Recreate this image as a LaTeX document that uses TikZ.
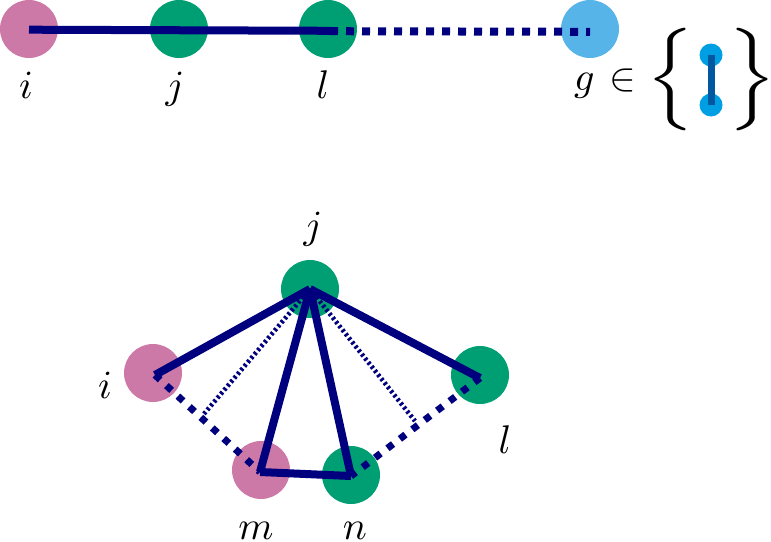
\documentclass[tikz,border=0pt]{standalone}
\definecolor{pinkn}{HTML}{CC79A7}
\definecolor{greenn}{HTML}{009E73}
\definecolor{skyn}{HTML}{56B4E9}
\definecolor{navyl}{HTML}{00007F}
\definecolor{cyann}{HTML}{009FE3}
\definecolor{bluel}{HTML}{0059A0}
\newcommand{\biglab}[1]{\scalebox{4}{$#1$}}
\tikzset{
  vtx/.style={circle,fill=#1,minimum size=58pt,inner sep=0pt,outer sep=0pt},
  tiny vtx/.style={circle,fill=cyann,minimum size=23pt,inner sep=0pt,outer sep=0pt},
  lab/.style={inner sep=0pt,outer sep=0pt,anchor=base},
  solidtop/.style={navyl,line width=8pt},
  dashtop/.style={navyl,line width=8pt,dash pattern=on 8pt off 8pt},
  solidlow/.style={navyl,line width=8pt},
  dashlow/.style={navyl,line width=7pt,dash pattern=on 7pt off 8.6pt},
  dotlow/.style={navyl,line width=4.6pt,dash pattern=on 2.6pt off 2.6pt},
}
\begin{document}
\begin{tikzpicture}[x=1pt,y=-1pt]
\useasboundingbox (0,0) rectangle (771,541);
% top row
\node[vtx=pinkn] (ti) at (29,29) {};
\node[vtx=greenn] (tj) at (179,29) {};
\node[vtx=greenn] (tl) at (328,29) {};
\node[vtx=skyn] (tg) at (590,29) {};
\coordinate (pi) at (29,29.7);
\coordinate (pl) at (331,30.8);
\coordinate (pl2) at (330,31.2);
\coordinate (pg) at (590,31.8);
\draw[dashtop] (pl2) -- (pg);
\draw[solidtop] (pi) -- (pl);
\node[lab] (li) at (26,98) {\biglab{i}};
\node[lab] (lj) at (175,98) {\biglab{j}};
\node[lab] (ll) at (323,98) {\biglab{l}};
\node[lab] (lg) at (605,90) {\biglab{g\mskip 1.5mu\in}};
% glyph
\node[tiny vtx] (ga) at (711,55) {};
\node[tiny vtx] (gb) at (711,105) {};
\draw[bluel,line width=7pt] (ga.center) -- (gb.center);
\node[inner sep=0pt,outer sep=0pt] (bl) at (670.5,80) {\scalebox{7.2}[5.7]{$\Big\{$}};
\node[inner sep=0pt,outer sep=0pt] (br) at (752.5,80) {\scalebox{7.2}[5.7]{$\Big\}$}};
% bottom
\node[vtx=greenn] (j) at (310,289) {};
\node[vtx=pinkn] (i) at (153,373) {};
\node[vtx=pinkn] (m) at (261,470) {};
\node[vtx=greenn] (n) at (351,475) {};
\node[vtx=greenn] (l) at (480,375) {};
\coordinate (cj) at (310,289);
\coordinate (ci) at (155,375);
\coordinate (cm) at (260,472);
\coordinate (cn) at (351,476);
\coordinate (cl) at (480,378);
\coordinate (di) at (203,415);
\coordinate (dl) at (415,421);
\draw[dotlow] (cj) -- (di);
\draw[dotlow] (cj) -- (dl);
\draw[dashlow] (ci) -- (cm);
\draw[dashlow] (cl) -- (cn);
\draw[solidlow] (cj) -- (ci);
\draw[solidlow] (cj) -- (cl);
\draw[solidlow] (cj) -- (cm);
\draw[solidlow] (cj) -- (cn);
\draw[solidlow] (cm) -- (cn);
\node[lab] (bj) at (313,238) {\biglab{j}};
\node[lab] (bi) at (105,398) {\biglab{i}};
\node[lab] (bl2) at (505,453) {\biglab{l}};
\node[lab] (bm) at (256,539) {\biglab{m}};
\node[lab] (bn) at (355,539) {\biglab{n}};
\end{tikzpicture}
\end{document}
